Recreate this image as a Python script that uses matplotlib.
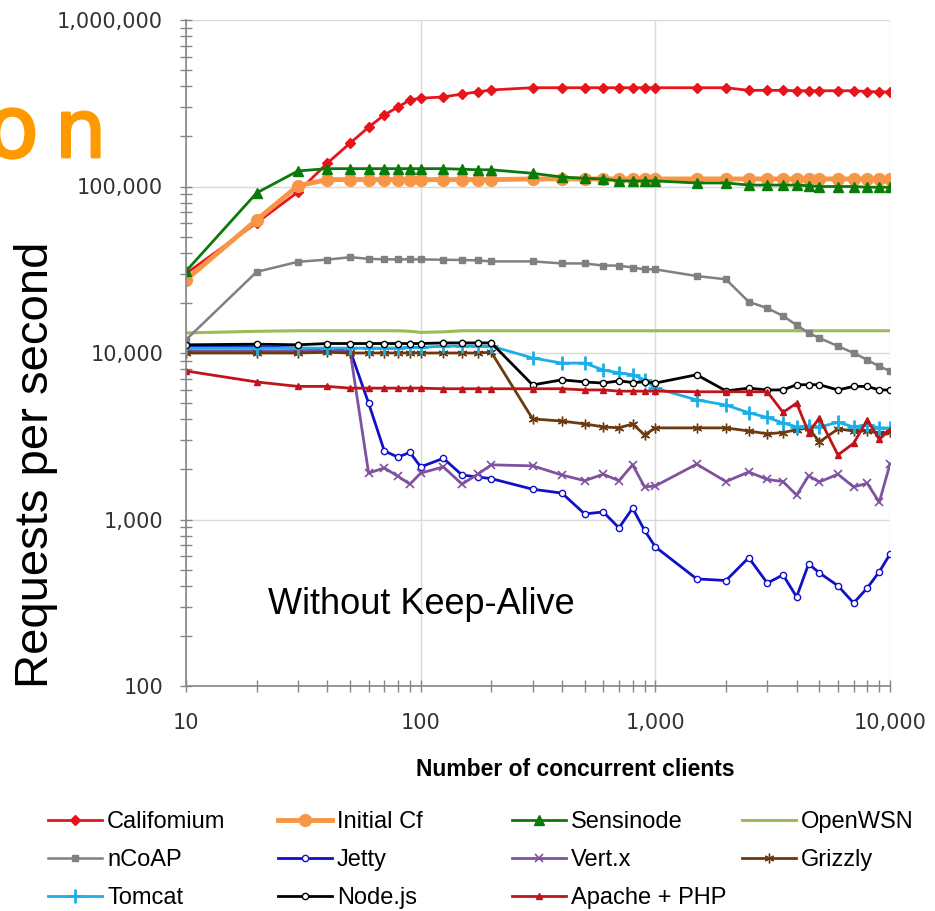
import matplotlib
matplotlib.use("Agg")
import matplotlib.pyplot as plt
import matplotlib.patheffects as pe
from matplotlib.ticker import FixedLocator, LogLocator, NullFormatter

# concurrent clients
clients = [10, 20, 30, 40, 50, 60, 70, 80, 90, 100, 125, 150, 175, 200, 300, 400, 500,
           600, 700, 800, 900, 1000, 1500, 2000, 2500, 3000, 3500, 4000, 4500, 5000,
           6000, 7000, 8000, 9000, 10000]

californium = [30000, 60500, 92700, 138000, 182000, 227000, 269000, 300000, 331000, 339000,
               345000, 359000, 370000, 380000, 392000, 392000, 392000, 392000, 392000, 392000,
               392000, 392000, 392000, 392000, 378000, 378000, 378000, 376000, 376000, 376000,
               376000, 376000, 372000, 370000, 370000]
initial_cf = [27500, 63000, 101000, 110000, 110000, 110000, 110000, 110000, 110000, 110000,
              110000, 110000, 110000, 110000, 111000, 111000, 111000, 111000, 111000, 111000,
              111000, 111000, 111000, 111000, 111000, 111000, 111000, 111000, 111000, 111000,
              111000, 111000, 111000, 111000, 111000]
sensinode = [31000, 91500, 124000, 128000, 128000, 128000, 128000, 128000, 128000, 128000,
             128000, 127000, 126000, 126000, 120000, 114000, 112000, 111000, 108000, 108000,
             108000, 108000, 105000, 105000, 102000, 102000, 102000, 102000, 101000, 100000,
             100000, 100000, 99000, 99000, 99000]
openwsn = [13200, 13500, 13600, 13600, 13600, 13600, 13600, 13600, 13500, 13300,
           13400, 13600, 13600, 13600, 13600, 13600, 13600, 13600, 13600, 13600,
           13600, 13600, 13600, 13600, 13600, 13600, 13600, 13600, 13600, 13600,
           13600, 13600, 13600, 13600, 13600]
ncoap = [12000, 30700, 35300, 36400, 37600, 36800, 36500, 36500, 36500, 36500,
         36300, 36200, 36000, 35500, 35500, 34500, 34500, 33500, 33500, 32600,
         31800, 31800, 29000, 27700, 20300, 18600, 16700, 14700, 13200, 12300,
         11000, 10000, 9100, 8300, 7800]
jetty = [11000, 10900, 10700, 10600, 10400, 5000, 2580, 2370, 2530, 2070,
         2330, 1850, 1800, 1760, 1520, 1440, 1080, 1110, 890, 1170,
         860, 685, 440, 430, 590, 415, 465, 343, 541, 478,
         400, 315, 388, 485, 620]
vertx = [10300, 10300, 10300, 10300, 10300, 1900, 2040, 1820, 1630, 1900,
         2070, 1630, 1870, 2130, 2100, 1850, 1710, 1870, 1710, 2130,
         1570, 1590, 2150, 1690, 1930, 1740, 1690, 1400, 1830, 1680,
         1870, 1570, 1650, 1270, 2150]
grizzly = [10000, 10000, 10000, 10100, 10000, 10000, 10000, 10000, 10000, 10000,
           10000, 10000, 10000, 10100, 4020, 3900, 3750, 3600, 3550, 3750,
           3220, 3550, 3550, 3550, 3400, 3270, 3330, 3460, 3550, 2920,
           3500, 3400, 3400, 3300, 3350]
tomcat = [10700, 10700, 10700, 10700, 10700, 10700, 10700, 10700, 10800, 10800,
          11000, 11000, 11000, 11000, 9330, 8700, 8700, 7900, 7600, 7400,
          6900, 6150, 5230, 4870, 4380, 4100, 3800, 3600, 3650, 3600,
          3830, 3600, 3700, 3550, 3550]
nodejs = [11200, 11300, 11200, 11400, 11400, 11400, 11400, 11400, 11400, 11400,
          11500, 11500, 11500, 11500, 6430, 6900, 6700, 6600, 6800, 6650,
          6700, 6600, 7400, 5920, 6150, 6000, 6000, 6450, 6450, 6450,
          6000, 6300, 6300, 6000, 6000]
apache = [7800, 6700, 6300, 6300, 6150, 6150, 6150, 6150, 6150, 6150,
          6100, 6100, 6100, 6100, 6100, 6100, 6000, 6000, 5900, 5900,
          5900, 5900, 5850, 5850, 5850, 5850, 4400, 5000, 3330, 4070,
          2440, 2870, 3970, 3030, 3460]

x_ticks = [10, 100, 1000, 10000]
y_ticks = [100, 1000, 10000, 100000, 1000000]

W, H = 935, 911
fig = plt.figure(figsize=(W / 100, H / 100), dpi=100)
ax = fig.add_axes([186 / W, 1 - 686 / H, (890 - 186) / W, (686 - 20) / H])

series = [
    ("Califomium", californium, dict(color="#E8141B", lw=2.0, marker="D", ms=5)),
    ("Initial Cf", initial_cf, dict(color="#F79646", lw=3.5, marker="o", ms=8.5)),
    ("Sensinode", sensinode, dict(color="#0A7A0A", lw=2.0, marker="^", ms=7)),
    ("OpenWSN", openwsn, dict(color="#9BBB59", lw=2.2)),
    ("nCoAP", ncoap, dict(color="#808080", lw=1.8, marker="s", ms=4.5)),
    ("Jetty", jetty, dict(color="#1010C8", lw=2.0, marker="o", ms=4.5, mfc="white")),
    ("Vert.x", vertx, dict(color="#7F52A0", lw=2.0, marker="x", ms=6, mew=1.2)),
    ("Grizzly", grizzly, dict(color="#6B3A0E", lw=2.0, marker=(6, 2, 0), ms=7, mew=1.0)),
    ("Tomcat", tomcat, dict(color="#1AAFE6", lw=2.0, marker="+", ms=10, mew=2)),
    ("Node.js", nodejs, dict(color="#000000", lw=2.0, marker="o", ms=4.5, mfc="white")),
    ("Apache + PHP", apache, dict(color="#C0141B", lw=2.0, marker="^", ms=5)),
]

handles = []
for name, vals, style in series:
    line, = ax.plot(clients, vals, label=name, **style)
    handles.append(line)

ax.set_xscale("log")
ax.set_yscale("log")
ax.set_xlim(10, 10000)
ax.set_ylim(100, 1000000)

ax.xaxis.set_major_locator(FixedLocator(x_ticks))
ax.yaxis.set_major_locator(FixedLocator(y_ticks))
ax.set_xticklabels([f"{v:,}" for v in x_ticks])
ax.set_yticklabels([f"{v:,}" for v in y_ticks])
ax.xaxis.set_minor_locator(LogLocator(base=10, subs=range(2, 10)))
ax.yaxis.set_minor_locator(LogLocator(base=10, subs=range(2, 10)))
ax.xaxis.set_minor_formatter(NullFormatter())
ax.yaxis.set_minor_formatter(NullFormatter())

ax.grid(True, which="major", color="#D9D9D9", lw=1)
ax.set_axisbelow(True)
for s in ["top", "right"]:
    ax.spines[s].set_visible(False)
for s in ["left", "bottom"]:
    ax.spines[s].set_color("#868686")
    ax.spines[s].set_linewidth(1.2)
ax.tick_params(which="both", direction="inout", length=9, width=1, color="#868686")
ax.tick_params(axis="both", which="major", labelsize=15, labelcolor="#333333", pad=12)
ax.tick_params(axis="x", which="major", pad=15)
for lab in ax.get_xticklabels() + ax.get_yticklabels():
    lab.set_family("DejaVu Sans")

fig.text(268 / W, 1 - 605 / H, "Without Keep-Alive", fontsize=26, family="Liberation Sans",
         ha="left", va="center")
fig.text(36 / W, 1 - 465 / H, "Requests per second", fontsize=34, family="Liberation Sans",
         rotation=90, ha="center", va="center")
fig.text(575 / W, 1 - 770 / H, "Number of concurrent clients", fontsize=16.5,
         family="Liberation Sans", weight="bold", ha="center", va="center")

# cut-off title fragment at top left
thick = [pe.withStroke(linewidth=2, foreground="#FF9900")]
fig.text(-14 / W, 1 - 157 / H, "o", fontsize=62, color="#FF9900", family="DejaVu Sans",
         ha="left", va="baseline", path_effects=thick)
fig.text(55 / W, 1 - 157 / H, "n", fontsize=58, color="#FF9900", family="DejaVu Sans",
         ha="left", va="baseline", path_effects=thick)

col_x = [48, 278, 512, 742]
for c in range(4):
    hs = handles[c::4]
    fig.legend(hs, [h.get_label() for h in hs], loc="upper left",
               bbox_to_anchor=(col_x[c] / W, 1 - 811 / H), frameon=False,
               prop={"family": "Liberation Sans", "size": 17},
               handlelength=2.3, handletextpad=0.2, labelspacing=0.68,
               borderpad=0, borderaxespad=0, numpoints=1)

fig.savefig("out.png", dpi=100)
